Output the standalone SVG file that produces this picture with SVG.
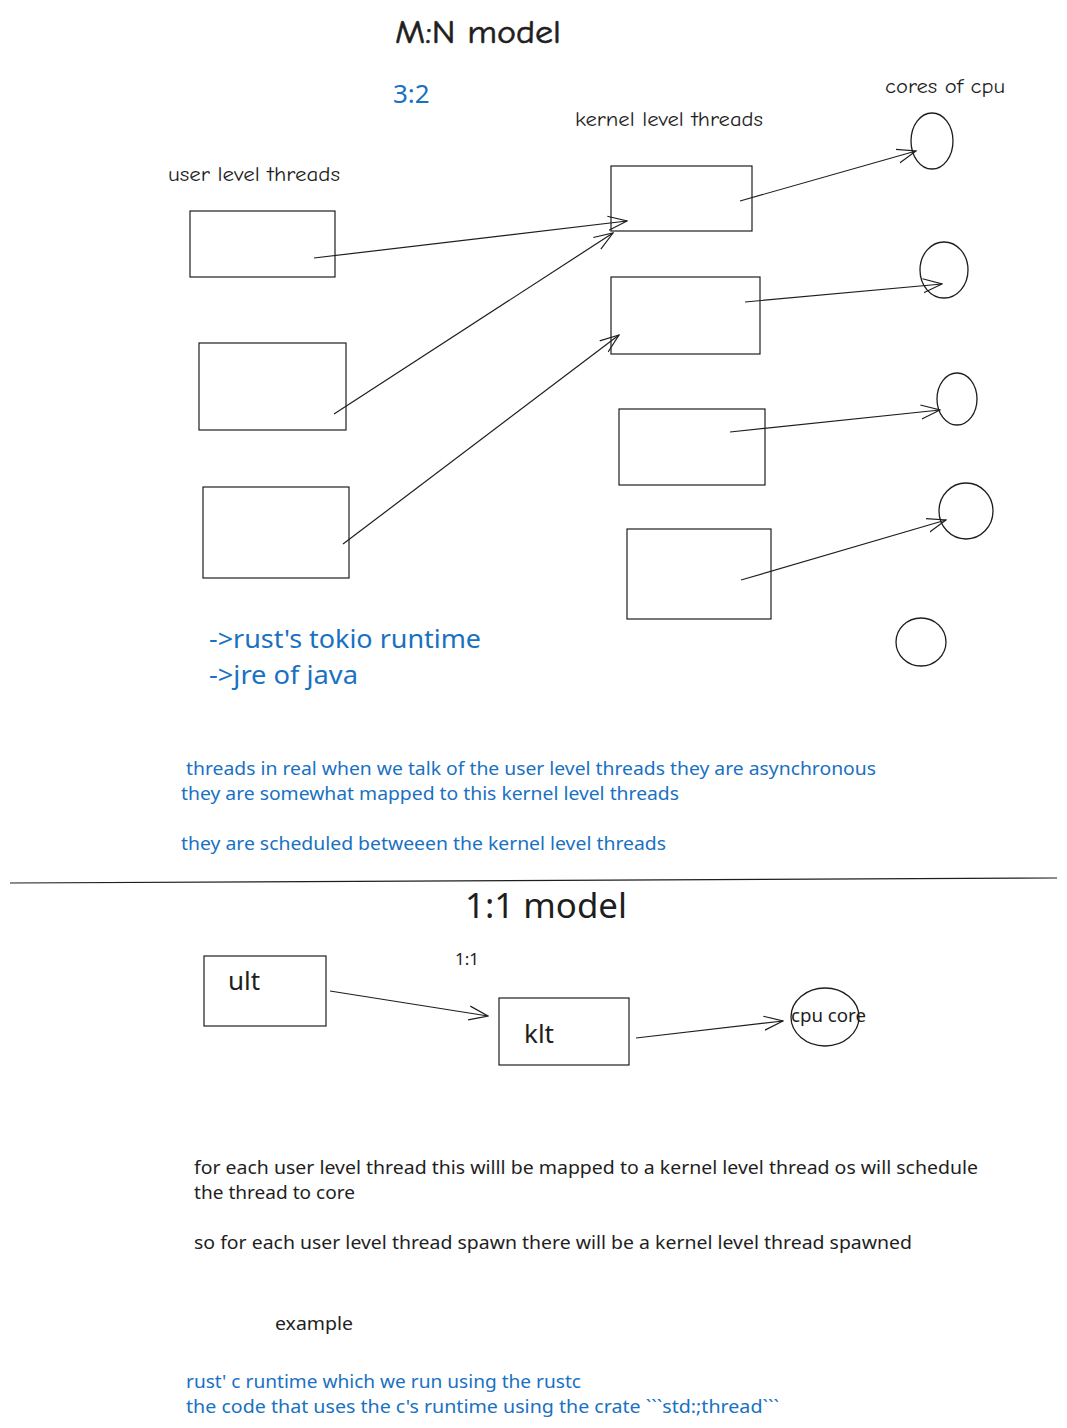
<svg xmlns="http://www.w3.org/2000/svg" width="1067" height="1428" viewBox="0 0 1067 1428">
<defs>
<style>
.box{fill:none;stroke:#1e1e1e;stroke-width:1.2}
.c{fill:none;stroke:#1e1e1e;stroke-width:1.3}
.e{stroke:#1e1e1e;stroke-width:1.2;fill:none}
.h{font-family:"Comic Neue","Liberation Sans",sans-serif;fill:#1e1e1e}
.t{font-family:"Noto Sans","Open Sans",sans-serif;fill:#1e1e1e}
.b{font-family:"Noto Sans","Open Sans",sans-serif;fill:#1971c2}
</style>
<marker id="a" viewBox="0 0 20 20" refX="19" refY="10" markerWidth="20" markerHeight="20" markerUnits="userSpaceOnUse" orient="auto">
<path d="M0,3 L19,10 L0,17" fill="none" stroke="#1e1e1e" stroke-width="1.2"/>
</marker>
</defs>
<rect width="1067" height="1428" fill="#ffffff"/>

<g id="titles">
<text class="h" x="395" y="43" font-size="33" stroke="#1e1e1e" stroke-width="0.6" textLength="166" lengthAdjust="spacingAndGlyphs">M:N model</text>
<text class="b" x="393" y="103" font-size="26">3:2</text>
<text class="h" x="575" y="126" font-size="20" textLength="188" lengthAdjust="spacingAndGlyphs">kernel level threads</text>
<text class="h" x="885" y="93" font-size="20" textLength="120" lengthAdjust="spacingAndGlyphs">cores of cpu</text>
<text class="h" x="168" y="181" font-size="20" textLength="172" lengthAdjust="spacingAndGlyphs">user level threads</text>
</g>

<g id="ult1"><rect class="box" x="190" y="211" width="145" height="66"/></g>
<g id="ult2"><rect class="box" x="199" y="343" width="147" height="87"/></g>
<g id="ult3"><rect class="box" x="203" y="487" width="146" height="91"/></g>
<g id="klt1"><rect class="box" x="611" y="166" width="141" height="65"/></g>
<g id="klt2"><rect class="box" x="611" y="277" width="149" height="77"/></g>
<g id="klt3"><rect class="box" x="619" y="409" width="146" height="76"/></g>
<g id="klt4"><rect class="box" x="627" y="529" width="144" height="90"/></g>
<g id="core1"><ellipse class="c" cx="932" cy="141" rx="21" ry="28"/></g>
<g id="core2"><ellipse class="c" cx="944" cy="270" rx="24" ry="28"/></g>
<g id="core3"><ellipse class="c" cx="957" cy="399" rx="20" ry="26"/></g>
<g id="core4"><ellipse class="c" cx="966" cy="511" rx="27" ry="28"/></g>
<g id="core5"><ellipse class="c" cx="921" cy="642" rx="25" ry="24"/></g>

<g id="connectors">
<line class="e" x1="314" y1="258" x2="627" y2="221" marker-end="url(#a)"/>
<line class="e" x1="334" y1="414" x2="613" y2="233" marker-end="url(#a)"/>
<line class="e" x1="343" y1="544" x2="619" y2="335" marker-end="url(#a)"/>
<line class="e" x1="740" y1="201" x2="916" y2="151" marker-end="url(#a)"/>
<line class="e" x1="745" y1="302" x2="942" y2="284" marker-end="url(#a)"/>
<line class="e" x1="730" y1="432" x2="940" y2="410" marker-end="url(#a)"/>
<line class="e" x1="741" y1="580" x2="946" y2="520" marker-end="url(#a)"/>
<line class="e" x1="330" y1="991" x2="488" y2="1016" marker-end="url(#a)"/>
<line class="e" x1="636" y1="1038" x2="783" y2="1021" marker-end="url(#a)"/>
</g>

<g id="notes1">
<text class="b" x="209" y="648" font-size="26" textLength="272" lengthAdjust="spacingAndGlyphs">-&gt;rust's tokio runtime</text>
<text class="b" x="209" y="684" font-size="26" textLength="149" lengthAdjust="spacingAndGlyphs">-&gt;jre of java</text>
<text class="b" x="186" y="775" font-size="18" textLength="690" lengthAdjust="spacingAndGlyphs">threads in real when we talk of the user level threads they are asynchronous</text>
<text class="b" x="181" y="800" font-size="18" textLength="498" lengthAdjust="spacingAndGlyphs">they are somewhat mapped to this kernel level threads</text>
<text class="b" x="181" y="850" font-size="18" textLength="485" lengthAdjust="spacingAndGlyphs">they are scheduled betweeen the kernel level threads</text>
</g>

<g id="divider"><line x1="10" y1="883" x2="1057" y2="878" stroke="#1e1e1e" stroke-width="1.2"/></g>

<g id="model11">
<text class="t" x="465" y="918" font-size="34" textLength="162" lengthAdjust="spacingAndGlyphs">1:1 model</text>
<text class="t" x="455" y="965" font-size="17">1:1</text>
</g>
<g id="ult"><rect class="box" x="204" y="956" width="122" height="70"/><text class="t" x="228" y="990" font-size="26">ult</text></g>
<g id="klt"><rect class="box" x="499" y="998" width="130" height="67"/><text class="t" x="524" y="1043" font-size="26">klt</text></g>
<g id="cpucore"><ellipse class="c" cx="825" cy="1017" rx="34" ry="29"/><text class="t" x="791" y="1022" font-size="18" textLength="75" lengthAdjust="spacingAndGlyphs">cpu core</text></g>

<g id="notes2">
<text class="t" x="194" y="1174" font-size="18" textLength="784" lengthAdjust="spacingAndGlyphs">for each user level thread this willl be mapped to a kernel level thread os will schedule</text>
<text class="t" x="194" y="1199" font-size="18" textLength="161" lengthAdjust="spacingAndGlyphs">the thread to core</text>
<text class="t" x="194" y="1249" font-size="18" textLength="718" lengthAdjust="spacingAndGlyphs">so for each user level thread spawn there will be a kernel level thread spawned</text>
<text class="t" x="275" y="1330" font-size="18" textLength="78" lengthAdjust="spacingAndGlyphs">example</text>
<text class="b" x="186" y="1388" font-size="18" textLength="395" lengthAdjust="spacingAndGlyphs">rust' c runtime which we run using the rustc</text>
<text class="b" x="186" y="1413" font-size="18" textLength="593" lengthAdjust="spacingAndGlyphs">the code that uses the c's runtime  using the crate ```std:;thread```</text>
</g>
</svg>
